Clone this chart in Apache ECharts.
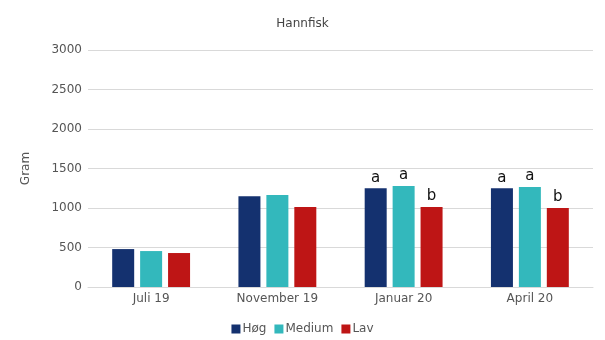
<!DOCTYPE html>
<html><head><meta charset="utf-8">
<script src="https://cdn.jsdelivr.net/npm/echarts@6/dist/echarts.min.js"></script>
<style>html,body{margin:0;padding:0;background:#fff}#c{width:605px;height:340px}</style>
</head><body><div id="c"></div>
<script>
var categories = ['Juli 19', 'November 19', 'Januar 20', 'April 20'];
var hoeg = [480, 1150, 1250, 1250];
var medium = [455, 1165, 1278, 1265];
var lav = [430, 1012, 1012, 1000];
var hoegLetters = ['', '', 'a', 'a'];
var mediumLetters = ['', '', 'a', 'a'];
var lavLetters = ['', '', 'b', 'b'];
var yTicks = [0, 500, 1000, 1500, 2000, 2500, 3000];

function mk(name, vals, letters, color) {
  return {
    name: name, type: 'bar', barWidth: 22, barGap: '27%',
    itemStyle: {color: color},
    data: vals,
    label: {show: true, position: 'top', distance: 3, color: '#111', fontSize: 15,
      fontFamily: 'DejaVu Sans',
      formatter: function (p) { return letters[p.dataIndex]; }}
  };
}
var chart = echarts.init(document.getElementById('c'));
chart.setOption({
  animation: false,
  title: {text: 'Hannfisk', left: 'center', top: 13, textStyle: {fontSize: 12, fontWeight: 'normal', color: '#444', fontFamily: 'DejaVu Sans'}},
  legend: {bottom: 0, itemWidth: 9, itemHeight: 9, itemGap: 8, icon: 'rect',
    textStyle: {fontSize: 12, color: '#555', fontFamily: 'DejaVu Sans', padding: [0, 0, 0, -3]}},
  grid: {left: 88, right: 12, top: 50, bottom: 53},
  xAxis: {type: 'category', data: categories,
    axisLine: {lineStyle: {color: '#d9d9d9'}}, axisTick: {show: false},
    axisLabel: {color: '#555', fontSize: 12, fontFamily: 'DejaVu Sans', margin: 6}},
  yAxis: {type: 'value', min: yTicks[0], max: yTicks[yTicks.length - 1], interval: 500,
    name: 'Gram', nameLocation: 'middle', nameGap: 56, nameRotate: 90,
    nameTextStyle: {color: '#555', fontSize: 12, fontFamily: 'DejaVu Sans'},
    axisLabel: {color: '#555', fontSize: 12, fontFamily: 'DejaVu Sans', margin: 6,
      formatter: function (v) { return String(v); }},
    splitLine: {lineStyle: {color: '#d9d9d9'}}},
  series: [mk('Høg', hoeg, hoegLetters, '#14316F'), mk('Medium', medium, mediumLetters, '#33B8BC'), mk('Lav', lav, lavLetters, '#BE1515')]
});
</script></body></html>
